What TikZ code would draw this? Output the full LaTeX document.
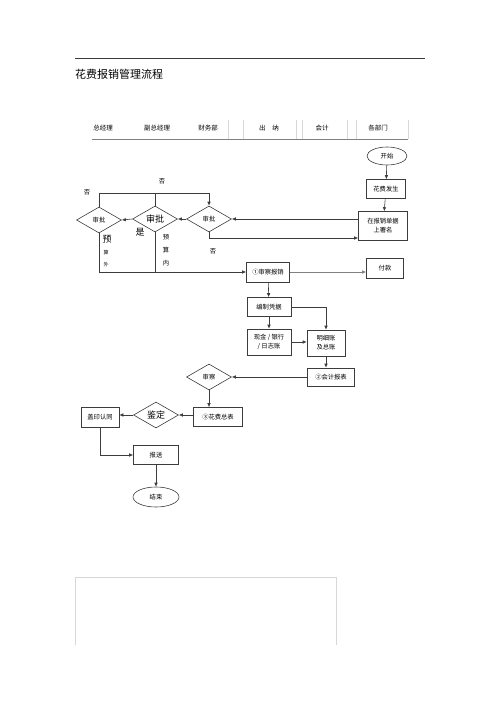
\documentclass[tikz,border=0pt]{standalone}
\usepackage{fontspec}
\setmainfont{Noto Sans CJK SC}
\usepackage{tikz}
\usetikzlibrary{arrows.meta,shapes.geometric}
\definecolor{linegray}{RGB}{60,60,60}
\definecolor{palegray}{RGB}{215,215,215}

\begin{document}
\begin{tikzpicture}[x=1pt, y=-1pt,
    box/.style={rectangle, draw=linegray, line width=0.6pt, minimum width=44pt, minimum height=19pt, inner sep=1pt, align=center, font=\fontsize{6.3}{9}\selectfont},
    term/.style={ellipse, draw=linegray, line width=0.6pt, minimum width=40pt, minimum height=18pt, inner sep=0pt, font=\fontsize{6.3}{8}\selectfont},
    choice/.style={diamond, draw=linegray, line width=0.6pt, aspect=1.7, minimum width=45pt, minimum height=26pt, inner sep=0pt, font=\fontsize{6.3}{8}\selectfont},
    head/.style={font=\fontsize{6.5}{8}\selectfont},
    lbl/.style={inner sep=0pt, font=\fontsize{6.3}{8}\selectfont},
    big/.style={font=\fontsize{9}{10}\selectfont},
    arrow/.style={-{Latex[length=4pt, width=3.5pt]}, draw=linegray, line width=0.6pt}
]
    \useasboundingbox (0,0) rectangle (500,707);

    \draw[linegray, line width=0.5pt] (75,58) -- (425,58);
    \node[anchor=west, inner sep=0pt, font=\fontsize{11}{12}\selectfont] (title) at (75,74) {花费报销管理流程};

    \node[head] (h1) at (103,128) {总经理};
    \node[head] (h2) at (157,128) {副总经理};
    \node[head] (h3) at (208,128) {财务部};
    \node[head] (h4) at (269,128) {出\hspace{7pt}纳};
    \node[head] (h5) at (322,128) {会计};
    \node[head] (h6) at (378,128) {各部门};
    \draw[palegray, line width=0.4pt] (228,120) -- (228,139) (243,120) -- (243,139)
        (296,120) -- (296,139) (302,120) -- (302,139) (347,120) -- (347,139)
        (356,120) -- (356,139) (408,120) -- (408,139);
    \draw[gray, line width=0.7pt] (92,139) -- (408,139);

    \node[term] (start) at (387,156) {开始};
    \node[box, minimum width=39pt] (occur) at (386,189) {花费发生};
    \node[box, minimum width=49pt, minimum height=29pt] (sign) at (383,226) {在报销单据\\上署名};
    \node[choice] (ap3) at (209,219) {审批};
    \node[choice, big] (ap2) at (155,219) {审批};
    \node[choice] (ap1) at (99,220) {审批};
    \node[box, minimum width=43pt, minimum height=20pt] (check) at (268,272) {①审察报销};
    \node[box, minimum width=37pt, minimum height=20pt] (pay) at (385,268) {付款};
    \node[box] (voucher) at (269,307) {编制凭据};
    \node[box, minimum height=26pt] (cash) at (269,342) {现金 / 银行\\/ 日志账};
    \node[box, minimum width=38pt, minimum height=26pt] (ledger) at (326,343) {明细账\\及总账};
    \node[box, minimum width=47pt, minimum height=18pt] (report) at (331,377) {②会计报表};
    \node[choice] (audit) at (209,377) {审察};
    \node[box, minimum width=49pt] (total) at (218,417) {③花费总表};
    \node[choice, big] (assess) at (156,415) {鉴定};
    \node[box, minimum width=38pt, minimum height=20pt] (seal) at (100,417) {盖印认同};
    \node[box, minimum width=45pt] (send) at (156,455) {报送};
    \node[term, minimum width=46pt, minimum height=20pt] (stop) at (156,497) {结束};

    \coordinate (loop) at (0,193);
    \coordinate (back) at (0,238);

    \node[lbl] (no1) at (162,181) {否};
    \node[lbl] (no2) at (87,192) {否};
    \node[lbl] (no3) at (213,251) {否};
    \node[lbl, big] (yes) at (140,232) {是};
    \node[lbl, big] (out1) at (107,239) {预};
    \node[lbl, font=\fontsize{5}{6}\selectfont] (out2) at (106,253) {算};
    \node[lbl, font=\fontsize{5}{6}\selectfont] (out3) at (106,265) {外};
    \node[lbl] (in1) at (166,237) {预};
    \node[lbl] (in2) at (166,250) {算};
    \node[lbl] (in3) at (166,263) {内};

    \draw[arrow] (start) -- (occur);
    \draw[arrow] (occur) -- (sign);
    \draw[arrow] (sign.west |- ap3.east) -- (ap3.east);
    \draw[arrow] (ap3.south) |- (back -| sign.west);
    \draw[arrow] (ap3.west) -- (ap2.east);
    \draw[arrow] (ap2.west) -- (ap1.east);
    \draw[arrow] (ap1.north) |- (loop -| ap3.north) -- (ap3.north);
    \draw[linegray, line width=0.6pt] (ap2.north) -- (ap2.north |- loop);
    \draw[arrow] (ap1.south) |- (check.west);
    \draw[linegray, line width=0.6pt] (ap2.south) -- (ap2.south |- check.west);
    \draw[arrow, draw=gray] (check.east) -- (check.east -| pay.west);
    \draw[arrow] (check) -- (voucher);
    \draw[arrow] (voucher) -- (cash);
    \draw[arrow] (voucher.east) -| (ledger.north);
    \draw[arrow] (cash) -- (cash -| ledger.west);
    \draw[arrow] (ledger.south) -- (ledger.south |- report.north);
    \draw[arrow] (report.west) -- (audit.east);
    \draw[arrow] (audit.south) -- (audit.south |- total.north);
    \draw[arrow] (total.west |- assess.east) -- (assess.east);
    \draw[arrow] (assess.west) -- (assess.west -| seal.east);
    \draw[arrow] (seal.south) |- (send.west);
    \draw[arrow] (send) -- (stop);

    \draw[palegray, line width=0.5pt] (75,645) -- (75,577) -- (336,577) -- (336,645);
\end{tikzpicture}
\end{document}
